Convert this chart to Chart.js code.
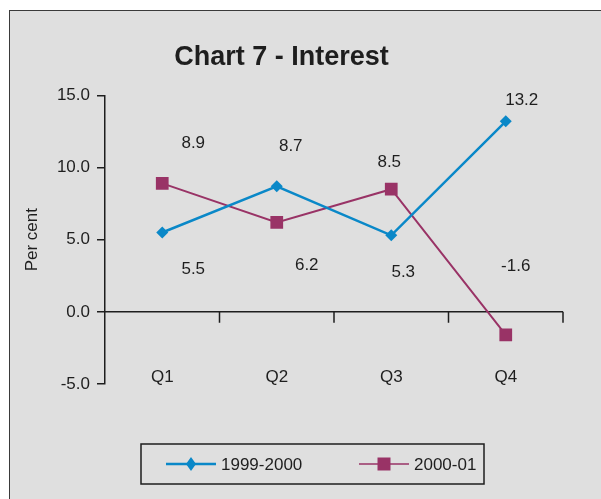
<!DOCTYPE html>
<html>
<head>
<meta charset="utf-8">
<title>Chart 7 - Interest</title>
<script src="https://cdn.jsdelivr.net/npm/chart.js@4.4.1/dist/chart.umd.min.js"></script>
<style>
    html, body { margin: 0; padding: 0; background: #ffffff; overflow: hidden; }
    #frame {
        position: absolute; left: 9px; top: 10px; width: 640px; height: 540px;
        background: #dfdfdf; border: 1.5px solid #3a3a3a;
    }
    #interestChart { position: absolute; left: 0; top: 0; }
</style>
</head>
<body>
<div id="frame"></div>
<canvas id="interestChart" width="601" height="499"></canvas>
<script>
    // Chart data
    var quarters = ['Q1', 'Q2', 'Q3', 'Q4'];
    var seriesNames = ['1999-2000', '2000-01'];
    var interest1999 = [5.5, 8.7, 5.3, 13.2];
    var interest2000 = [8.9, 6.2, 8.5, -1.6];
    var yTicks = [-5, 0, 5, 10, 15];

    var blue = '#0a88c8';
    var maroon = '#993366';
    var ink = '#1e1e1e';
    var font = "'Liberation Sans', Arial, sans-serif";

    // where each value label sits relative to its point (pixels)
    var labelOffsets = [
        [[31, 37], [14, -40], [12, 37], [16, -21]],
        [[31, -40], [30, 43], [-2, -27], [10, -69]]
    ];

    // Zero line with category tick marks
    var zeroLine = {
        id: 'zeroLine',
        beforeDatasetsDraw: function (chart) {
            var ctx = chart.ctx;
            var area = chart.chartArea;
            var y0 = chart.scales.y.getPixelForValue(0);
            var step = (area.right - area.left) / quarters.length;
            ctx.save();
            ctx.strokeStyle = ink;
            ctx.lineWidth = 1.5;
            ctx.beginPath();
            ctx.moveTo(area.left, y0);
            ctx.lineTo(area.right, y0);
            for (var i = 1; i <= quarters.length; i++) {
                var x = area.left + i * step;
                ctx.moveTo(x, y0);
                ctx.lineTo(x, y0 + 11);
            }
            ctx.stroke();
            ctx.restore();
        }
    };

    // Value labels next to the points
    var valueLabels = {
        id: 'valueLabels',
        afterDatasetsDraw: function (chart) {
            var ctx = chart.ctx;
            ctx.save();
            ctx.font = '17px ' + font;
            ctx.fillStyle = ink;
            ctx.textAlign = 'center';
            ctx.textBaseline = 'middle';
            chart.data.datasets.forEach(function (ds, d) {
                chart.getDatasetMeta(d).data.forEach(function (pt, i) {
                    var off = labelOffsets[d][i];
                    ctx.fillText(ds.data[i].toFixed(1), pt.x + off[0], pt.y + off[1]);
                });
            });
            ctx.restore();
        }
    };

    // Boxed legend with line + marker samples
    var boxLegend = {
        id: 'boxLegend',
        afterDraw: function (chart) {
            var ctx = chart.ctx;
            var top = 444, bottom = 484;
            var cy = (top + bottom) / 2;
            var items = [
                { x: 166, color: blue, width: 2.5, style: 'diamond' },
                { x: 359, color: maroon, width: 1.5, style: 'square' }
            ];
            ctx.save();
            ctx.strokeStyle = ink;
            ctx.lineWidth = 1.5;
            ctx.strokeRect(141, top, 343, bottom - top);
            ctx.font = '17px ' + font;
            ctx.textBaseline = 'middle';
            ctx.textAlign = 'left';
            items.forEach(function (it, d) {
                var mid = it.x + 25;
                ctx.strokeStyle = it.color;
                ctx.lineWidth = it.width;
                ctx.beginPath();
                ctx.moveTo(it.x, cy);
                ctx.lineTo(it.x + 50, cy);
                ctx.stroke();
                ctx.fillStyle = it.color;
                ctx.beginPath();
                if (it.style === 'diamond') {
                    ctx.moveTo(mid, cy - 7);
                    ctx.lineTo(mid + 5, cy);
                    ctx.lineTo(mid, cy + 7);
                    ctx.lineTo(mid - 5, cy);
                    ctx.closePath();
                } else {
                    ctx.rect(mid - 6.5, cy - 6.5, 13, 13);
                }
                ctx.fill();
                ctx.fillStyle = ink;
                ctx.fillText(chart.data.datasets[d].label, it.x + 55, cy + 1);
            });
            ctx.restore();
        }
    };

    var ctxInterest = document.getElementById('interestChart').getContext('2d');
    new Chart(ctxInterest, {
        type: 'line',
        data: {
            labels: quarters,
            datasets: [{
                label: seriesNames[0],
                data: interest1999,
                borderColor: blue,
                backgroundColor: blue,
                borderWidth: 2.5,
                pointStyle: 'rectRot',
                pointRadius: 6,
                pointBorderWidth: 0,
                tension: 0
            }, {
                label: seriesNames[1],
                data: interest2000,
                borderColor: maroon,
                backgroundColor: maroon,
                borderWidth: 2,
                pointStyle: 'rect',
                pointRadius: 9,
                pointBorderWidth: 0,
                tension: 0
            }]
        },
        options: {
            responsive: false,
            animation: false,
            layout: {
                padding: { left: 0, right: 38, top: 0, bottom: 0 }
            },
            scales: {
                x: {
                    offset: true,
                    grid: { display: false, drawTicks: false },
                    border: { display: false },
                    ticks: {
                        color: ink,
                        font: { family: font, size: 17 },
                        mirror: true,
                        padding: -4
                    },
                    afterFit: function (scale) { scale.height = 115; }
                },
                y: {
                    min: -5,
                    max: 15,
                    afterBuildTicks: function (scale) {
                        scale.ticks = yTicks.map(function (v) { return { value: v }; });
                    },
                    grid: {
                        drawOnChartArea: false,
                        drawTicks: true,
                        tickLength: 8,
                        color: ink,
                        lineWidth: 1.5
                    },
                    border: { color: ink, width: 1.5 },
                    ticks: {
                        color: ink,
                        font: { family: font, size: 17 },
                        padding: 7,
                        callback: function (v) { return Number(v).toFixed(1); }
                    },
                    title: {
                        display: true,
                        text: 'Per cent',
                        color: ink,
                        font: { family: font, size: 17 },
                        padding: { top: 22, bottom: 0 }
                    },
                    afterFit: function (scale) { scale.width = 105; }
                }
            },
            plugins: {
                title: {
                    display: true,
                    text: 'Chart 7 - Interest',
                    color: ink,
                    font: { family: font, size: 27, weight: 'bold' },
                    padding: { top: 41, bottom: 22 }
                },
                legend: { display: false },
                tooltip: { enabled: false }
            }
        },
        plugins: [zeroLine, valueLabels, boxLegend]
    });
</script>
</body>
</html>
